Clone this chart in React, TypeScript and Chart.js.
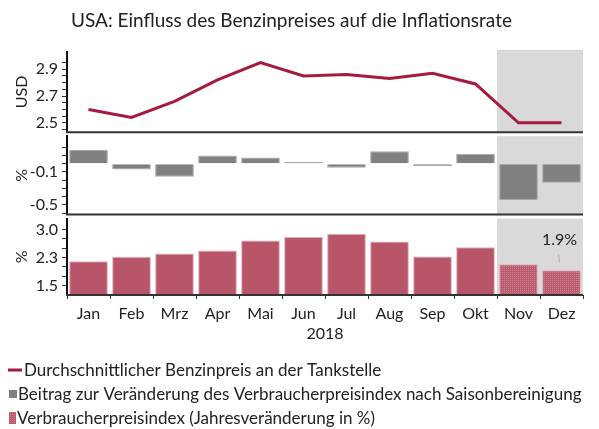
import React, { useEffect, useRef } from 'react';
import { Chart, registerables } from 'chart.js';

Chart.register(...registerables);

// ---------- data ----------
const monate = ['Jan', 'Feb', 'Mrz', 'Apr', 'Mai', 'Jun', 'Jul', 'Aug', 'Sep', 'Okt', 'Nov', 'Dez'];
const benzinpreisUSD = [2.6, 2.54, 2.66, 2.82, 2.95, 2.85, 2.86, 2.83, 2.87, 2.79, 2.5, 2.5];
const beitragVPI = [0.17, -0.07, -0.16, 0.1, 0.075, 0.02, -0.05, 0.15, -0.03, 0.12, -0.44, -0.23];
const vpiJahr = [2.15, 2.27, 2.36, 2.44, 2.71, 2.8, 2.89, 2.68, 2.28, 2.53, 2.07, 1.91];
const markierteMonate = ['Nov', 'Dez'];

const preisTicks = [2.45, 2.5, 2.55, 2.6, 2.65, 2.7, 2.75, 2.8, 2.85, 2.9, 2.95];
const preisLabels = [2.5, 2.7, 2.9];
const beitragTicks = [-0.6, -0.5, -0.4, -0.3, -0.2, -0.1, 0, 0.1, 0.2];
const beitragLabels = [-0.5, -0.1];
const vpiTicks = [1.5, 1.75, 2.0, 2.25, 2.5, 2.75, 3.0];
const vpiLabels = [1.5, 2.25, 3.0];

const titel = 'USA: Einfluss des Benzinpreises auf die Inflationsrate';
const xTitel = '2018';
const legendeTexte = [
  'Durchschnittlicher Benzinpreis an der Tankstelle',
  'Beitrag zur Veränderung des Verbraucherpreisindex nach Saisonbereinigung',
  'Verbraucherpreisindex (Jahresveränderung in %)',
];

// ---------- styles ----------
const FONT = 'Lato, "Noto Sans", sans-serif';
const TEXT = '#222222';
const LINE_COLOR = '#a51b3d';
const GRAY_BAR = '#808080';
const GRAY_BORDER = '#a8a8a8';
const CPI_BAR = '#b85569';
const CPI_BORDER = '#e3adb8';
const SHADE = '#d9d9d9';
const AXIS = '#333333';

const near = (v: number, list: number[]) => list.some((l) => Math.abs(l - v) < 1e-6);

export default function App() {
  const ref = useRef<HTMLCanvasElement>(null);

  useEffect(() => {
    const canvas = ref.current!;
    const ctx0 = canvas.getContext('2d')!;

    const pc = document.createElement('canvas');
    pc.width = 2;
    pc.height = 2;
    const p = pc.getContext('2d')!;
    p.fillStyle = '#bb5b6e';
    p.fillRect(0, 0, 2, 2);
    p.fillStyle = '#cf8391';
    p.fillRect(0, 0, 1, 1);
    const pattern = ctx0.createPattern(pc, 'repeat')!;

    const panelIds = ['yPreis', 'yBeitrag', 'yVpi'];

    const shadePlugin = {
      id: 'shade',
      beforeDraw(chart: any) {
        const x = chart.scales.x;
        const ctx = chart.ctx;
        const idx = markierteMonate.map((m) => monate.indexOf(m));
        const half = (x.getPixelForValue(1) - x.getPixelForValue(0)) / 2;
        const left = x.getPixelForValue(Math.min(...idx)) - half;
        const right = x.getPixelForValue(Math.max(...idx)) + half;
        ctx.save();
        ctx.fillStyle = SHADE;
        panelIds.forEach((id, i) => {
          const s = chart.scales[id];
          const extra = i === 0 ? 2 : 0;
          ctx.fillRect(left, s.top - extra, right - left, s.bottom - s.top + extra);
        });
        ctx.restore();
      },
      afterDatasetsDraw(chart: any) {
        const ctx = chart.ctx;
        const { left, right } = chart.chartArea;
        ctx.save();
        ctx.strokeStyle = AXIS;
        ctx.lineWidth = 2;
        panelIds.forEach((id) => {
          const s = chart.scales[id];
          ctx.beginPath();
          ctx.moveTo(left - 1, s.bottom);
          ctx.lineTo(right, s.bottom);
          ctx.stroke();
        });
        ctx.restore();
      },
      afterDraw(chart: any) {
        const ctx = chart.ctx;
        const x = chart.scales.x;
        const yV = chart.scales.yVpi;
        // annotation for last CPI value
        const last = vpiJahr.length - 1;
        const bx = x.getPixelForValue(last);
        const by = yV.getPixelForValue(vpiJahr[last]);
        ctx.save();
        ctx.strokeStyle = '#b0b0b0';
        ctx.lineWidth = 1;
        ctx.beginPath();
        ctx.moveTo(bx - 3, by - 16);
        ctx.lineTo(bx - 2, by - 8);
        ctx.stroke();
        ctx.fillStyle = TEXT;
        ctx.font = `16px ${FONT}`;
        ctx.textAlign = 'center';
        ctx.textBaseline = 'middle';
        ctx.fillText(`${vpiJahr[last].toFixed(1)}%`, bx - 2, by - 30);

        // legend
        const h = chart.height;
        const rows = [h - 59, h - 35, h - 11];
        ctx.font = `17px ${FONT}`;
        ctx.textAlign = 'left';
        ctx.textBaseline = 'middle';
        // line marker
        ctx.strokeStyle = LINE_COLOR;
        ctx.lineWidth = 3;
        ctx.beginPath();
        ctx.moveTo(8, rows[0]);
        ctx.lineTo(22, rows[0]);
        ctx.stroke();
        ctx.fillStyle = TEXT;
        ctx.fillText(legendeTexte[0], 24, rows[0] + 1);
        // gray box
        ctx.fillStyle = GRAY_BAR;
        ctx.fillRect(9, rows[1] - 4, 8, 8);
        ctx.fillStyle = TEXT;
        ctx.fillText(legendeTexte[1], 18, rows[1] + 1);
        // cpi box
        ctx.fillStyle = pattern;
        ctx.fillRect(9, rows[2] - 6, 7, 12);
        ctx.fillStyle = TEXT;
        ctx.fillText(legendeTexte[2], 17, rows[2] + 1);
        ctx.restore();
      },
    };

    const yCommon = (ticksList: number[], labels: number[], digits: number) => ({
      type: 'linear' as const,
      position: 'left' as const,
      stack: 'panels',
      afterBuildTicks: (s: any) => {
        s.ticks = ticksList.map((v) => ({ value: v }));
      },
      afterFit: (s: any) => {
        s.width = 67;
      },
      ticks: {
        autoSkip: false,
        padding: 4,
        color: TEXT,
        font: { family: FONT, size: 16 },
        callback: (v: any) => (near(Number(v), labels) ? Number(v).toFixed(digits) : ''),
      },
      grid: { drawOnChartArea: false, drawTicks: true, tickLength: 5, color: AXIS, lineWidth: 1 },
      border: { display: true, color: '#111111', width: 2 },
    });

    const yTitle = (text: string) => ({
      display: true,
      text,
      color: TEXT,
      font: { family: FONT, size: 16 },
      padding: { top: 12.5, bottom: 0 },
    });

    const chart = new Chart(canvas, {
      type: 'bar',
      data: {
        labels: monate,
        datasets: [
          {
            type: 'line',
            label: legendeTexte[0],
            data: benzinpreisUSD,
            yAxisID: 'yPreis',
            borderColor: LINE_COLOR,
            backgroundColor: LINE_COLOR,
            borderWidth: 3,
            pointRadius: 0,
            tension: 0,
          } as any,
          {
            type: 'bar',
            label: legendeTexte[1],
            data: beitragVPI,
            yAxisID: 'yBeitrag',
            backgroundColor: GRAY_BAR,
            borderColor: GRAY_BORDER,
            borderWidth: 1,
            grouped: false,
            categoryPercentage: 0.9,
            barPercentage: 1,
          } as any,
          {
            type: 'bar',
            label: legendeTexte[2],
            data: vpiJahr,
            yAxisID: 'yVpi',
            backgroundColor: monate.map((m) => (markierteMonate.includes(m) ? pattern : CPI_BAR)),
            borderColor: CPI_BORDER,
            borderWidth: 1,
            grouped: false,
            categoryPercentage: 0.9,
            barPercentage: 1,
          } as any,
        ],
      },
      options: {
        responsive: false,
        animation: false,
        layout: { padding: { left: 0, right: 16, top: 0, bottom: 81.4 } },
        plugins: {
          legend: { display: false },
          tooltip: { enabled: false },
          title: {
            display: true,
            text: titel,
            color: TEXT,
            font: { family: FONT, size: 19, weight: 'normal' },
            padding: { top: 9, bottom: 20 },
          },
        },
        scales: {
          x: {
            type: 'category',
            position: 'bottom',
            offset: true,
            grid: { display: true, drawOnChartArea: false, drawTicks: true, tickLength: 4, color: AXIS, offset: true },
            border: { display: false },
            ticks: { color: TEXT, font: { family: FONT, size: 16 }, padding: 5, autoSkip: false, maxRotation: 0 },
            title: { display: true, text: xTitel, color: TEXT, font: { family: FONT, size: 16 }, padding: { top: -3.8, bottom: 4 } },
          },
          yVpi: {
            ...yCommon(vpiTicks, vpiLabels, 1),
            min: 1.245,
            max: 3.298,
            stackWeight: 77,
            weight: 1,
            title: yTitle('%'),
          },
          gap2: { type: 'linear', display: false, position: 'left', stack: 'panels', stackWeight: 4, weight: 2 },
          yBeitrag: {
            ...yCommon(beitragTicks, beitragLabels, 1),
            min: -0.618,
            max: 0.334,
            stackWeight: 79,
            weight: 3,
            title: yTitle('%'),
          },
          gap1: { type: 'linear', display: false, position: 'left', stack: 'panels', stackWeight: 4, weight: 4 },
          yPreis: {
            ...yCommon(preisTicks, preisLabels, 1),
            min: 2.43,
            max: 3.03,
            stackWeight: 81,
            weight: 5,
            title: yTitle('USD'),
          },
        } as any,
      },
      plugins: [shadePlugin],
    });

    return () => chart.destroy();
  }, []);

  return (
    <div style={{ position: 'fixed', left: 0, top: 0, width: 599, height: 429, background: '#ffffff' }}>
      <canvas ref={ref} width={599} height={429} style={{ display: 'block' }} />
    </div>
  );
}
